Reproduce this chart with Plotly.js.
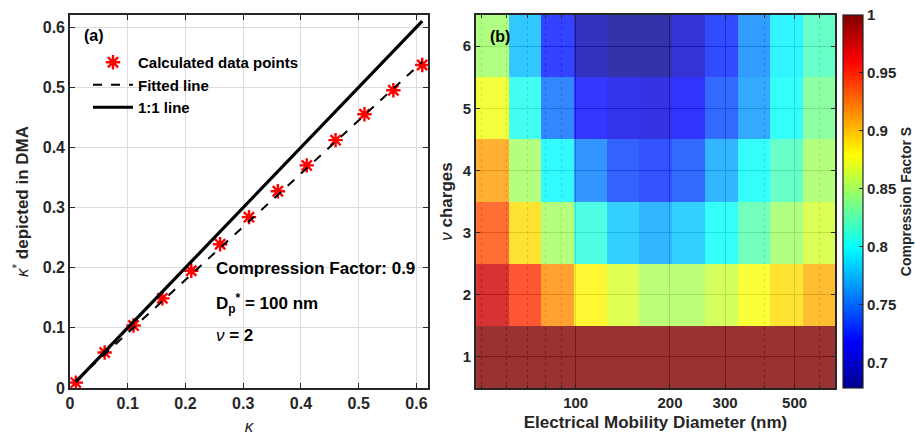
<!DOCTYPE html>
<html>
<head>
<meta charset="utf-8">
<script src="https://cdn.plot.ly/plotly-3.0.1.min.js"></script>
<style>html,body{margin:0;padding:0;background:#fff;}#chart{width:915px;height:436px;}</style>
</head>
<body>
<div id="chart"></div>
<script>
// Panel (a)
const kappa = [0.01, 0.06, 0.11, 0.16, 0.21, 0.26, 0.31, 0.36, 0.41, 0.46, 0.51, 0.56, 0.61];
const kappaStar = [0.009, 0.059, 0.104, 0.149, 0.195, 0.239, 0.284, 0.327, 0.370, 0.412, 0.455, 0.495, 0.537];
const fitX = [0.01, 0.61];
const fitY = [0.012, 0.542];
const oneX = [0.01, 0.61];
const oneY = [0.01, 0.61];

// Panel (b)
const diameters = [54.2, 68.9, 87.6, 111.4, 141.7, 180.3, 229.3, 291.7, 371, 472, 600.5];
const charges = [1, 2, 3, 4, 5, 6];
const row1 = [1, 1, 1, 1, 1, 1, 1, 1, 1, 1, 1];
const row2 = [0.975, 0.946, 0.916, 0.882, 0.867, 0.852, 0.852, 0.862, 0.877, 0.890, 0.905];
const row3 = [0.936, 0.890, 0.850, 0.810, 0.780, 0.770, 0.780, 0.800, 0.825, 0.848, 0.865];
const row4 = [0.910, 0.850, 0.797, 0.757, 0.737, 0.731, 0.740, 0.770, 0.800, 0.820, 0.850];
const row5 = [0.875, 0.805, 0.752, 0.720, 0.710, 0.705, 0.718, 0.740, 0.765, 0.800, 0.835];
const row6 = [0.848, 0.777, 0.725, 0.690, 0.680, 0.680, 0.700, 0.728, 0.760, 0.795, 0.820];
const compression = [row1, row2, row3, row4, row5, row6];
const xTickVals = [100, 200, 300, 500];
const xMinorVals = [50, 60, 70, 80, 90, 400, 600];
const cbTickVals = [0.7, 0.75, 0.8, 0.85, 0.9, 0.95, 1];
const cbTickText = ['0.7', '0.75', '0.8', '0.85', '0.9', '0.95', '1'];

const FONT = 'Liberation Sans, Arial, sans-serif';
const DARK = '#262626';

const jet = [[0, 'rgb(0,0,143)'], [0.125, 'rgb(0,0,255)'], [0.375, 'rgb(0,255,255)'],
             [0.625, 'rgb(255,255,0)'], [0.875, 'rgb(255,0,0)'], [1, 'rgb(128,0,0)']];

const traces = [
  {x: kappa, y: kappaStar, type: 'scatter', mode: 'markers', name: 'Calculated data points',
   marker: {symbol: 'asterisk-open', size: 12, color: 'red', line: {color: 'red', width: 2.4}},
   xaxis: 'x', yaxis: 'y'},
  {x: fitX, y: fitY, type: 'scatter', mode: 'lines', name: 'Fitted line',
   line: {color: 'black', width: 2, dash: 'dash'}, xaxis: 'x', yaxis: 'y'},
  {x: oneX, y: oneY, type: 'scatter', mode: 'lines', name: '1:1 line',
   line: {color: 'black', width: 3.2}, xaxis: 'x', yaxis: 'y'},
  {x: diameters, y: charges, z: compression, type: 'heatmap', xaxis: 'x2', yaxis: 'y2',
   colorscale: jet, zmin: 0.678, zmax: 1, opacity: 0.8, showlegend: false, zsmooth: false,
   colorbar: {x: 843/915, xanchor: 'left', y: 1 - 15/436, yanchor: 'top', len: 373/436, lenmode: 'fraction',
     thickness: 20, thicknessmode: 'pixels', xpad: 0, ypad: 0, outlinewidth: 1.2, outlinecolor: DARK,
     tickmode: 'array', tickvals: cbTickVals, ticktext: cbTickText, ticks: 'inside', ticklen: 4, tickcolor: DARK,
     tickfont: {family: FONT, size: 15, color: DARK, weight: 'bold'},
     title: {text: 'Compression Factor S', side: 'right', font: {family: FONT, size: 14, color: DARK, weight: 'bold'}}}}
];

const layout = {
  width: 915, height: 436,
  margin: {l: 0, r: 0, t: 0, b: 0},
  paper_bgcolor: '#fff', plot_bgcolor: '#fff',
  font: {family: FONT, color: DARK},
  showlegend: true,
  legend: {x: 88/915, xanchor: 'left', y: 1 - 46/436, yanchor: 'top', bgcolor: 'rgba(0,0,0,0)',
    itemwidth: 40,
    font: {family: FONT, size: 15, color: 'black', weight: 'bold'}, tracegroupgap: 0},
  xaxis: {domain: [70/915, 428/915], range: [0, 0.62], tickvals: [0, 0.1, 0.2, 0.3, 0.4, 0.5, 0.6],
    ticktext: ['0', '0.1', '0.2', '0.3', '0.4', '0.5', '0.6'],
    showline: true, mirror: 'allticks', linecolor: DARK, linewidth: 1.8, ticks: 'inside', ticklen: 5, tickcolor: DARK,
    showgrid: true, gridcolor: '#dcdcdc', gridwidth: 1, zeroline: false,
    tickfont: {family: FONT, size: 16, color: DARK, weight: 'bold'},
    title: {text: '<i>κ</i>', standoff: 13, font: {family: FONT, size: 17, color: DARK}}, anchor: 'y'},
  yaxis: {domain: [1 - 388/436, 1 - 15/436], range: [0, 0.62], tickvals: [0, 0.1, 0.2, 0.3, 0.4, 0.5, 0.6],
    ticktext: ['0', '0.1', '0.2', '0.3', '0.4', '0.5', '0.6'],
    showline: true, mirror: 'allticks', linecolor: DARK, linewidth: 1.8, ticks: 'inside', ticklen: 5, tickcolor: DARK,
    showgrid: true, gridcolor: '#dcdcdc', gridwidth: 1, zeroline: false,
    tickfont: {family: FONT, size: 16, color: DARK, weight: 'bold'},
    title: {text: '<i>κ</i><sup>*</sup><b> depicted in DMA</b>', standoff: 10, font: {family: FONT, size: 17, color: DARK}}, anchor: 'x'},
  xaxis2: {domain: [476/915, 835/915], type: 'log', range: [Math.log10(48.05), Math.log10(673)],
    tickmode: 'array', tickvals: xTickVals, ticktext: ['100', '200', '300', '500'],
    showline: true, mirror: 'allticks', linecolor: DARK, linewidth: 1.8, ticks: 'inside', ticklen: 4, tickcolor: DARK,
    showgrid: true, gridcolor: 'rgba(0,0,0,0.55)', gridwidth: 1, zeroline: false,
    minor: {tickmode: 'array', tickvals: xMinorVals, ticks: 'inside', ticklen: 3, tickcolor: DARK,
      showgrid: true, gridcolor: 'rgba(0,0,0,0.45)', griddash: 'dot', gridwidth: 1},
    tickfont: {family: FONT, size: 15, color: DARK, weight: 'bold'},
    title: {text: 'Electrical Mobility Diameter (nm)', standoff: 6, font: {family: FONT, size: 17, color: DARK, weight: 'bold'}},
    anchor: 'y2'},
  yaxis2: {domain: [1 - 388/436, 1 - 15/436], range: [0.5, 6.5], tickvals: charges,
    showline: true, mirror: 'allticks', linecolor: DARK, linewidth: 1.8, ticks: 'inside', ticklen: 4, tickcolor: DARK,
    showgrid: true, gridcolor: 'rgba(0,0,0,0.55)', gridwidth: 1, zeroline: false,
    tickfont: {family: FONT, size: 15, color: DARK, weight: 'bold'},
    title: {text: '<i>ν</i><b> charges</b>', standoff: 6, font: {family: FONT, size: 17, color: DARK}}, anchor: 'x2'},
  annotations: [
    {xref: 'x', yref: 'paper', x: 0.02, y: 1 - 35/436, text: '<b>(a)</b>', showarrow: false, xanchor: 'left', yanchor: 'middle',
      font: {family: FONT, size: 16, color: 'black'}},
    {xref: 'paper', yref: 'paper', x: 488/915, y: 1 - 37/436, text: '<b>(b)</b>', showarrow: false, xanchor: 'left', yanchor: 'middle',
      font: {family: FONT, size: 16, color: 'black'}},
    {xref: 'x', yref: 'y', x: 0.25, y: 0.198, text: '<b>Compression Factor: 0.9</b>', showarrow: false, xanchor: 'left', yanchor: 'middle',
      font: {family: FONT, size: 17, color: 'black'}},
    {xref: 'x', yref: 'y', x: 0.25, y: 0.141, text: '<b>D<sub>p</sub><sup>*</sup> = 100 nm</b>', showarrow: false, xanchor: 'left', yanchor: 'middle',
      font: {family: FONT, size: 17, color: 'black'}},
    {xref: 'x', yref: 'y', x: 0.25, y: 0.087, text: '<i>ν</i><b> = 2</b>', showarrow: false, xanchor: 'left', yanchor: 'middle',
      font: {family: FONT, size: 17, color: 'black'}}
  ]
};

Plotly.newPlot('chart', traces, layout, {displayModeBar: false, staticPlot: true});
</script>
</body>
</html>
